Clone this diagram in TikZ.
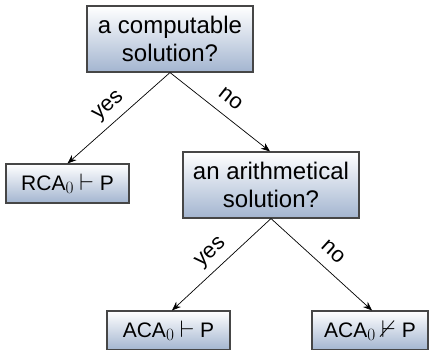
\documentclass[tikz,border=0pt]{standalone}
\usepackage{fontspec}
\usepackage{amssymb}
\usepackage{graphicx}
\setmainfont{Liberation Sans}
\usetikzlibrary{arrows.meta}
\definecolor{boxbot}{RGB}{163,181,208}
\definecolor{boxline}{RGB}{70,70,70}
\newcommand{\subz}{\raisebox{-2.5pt}{\fontsize{17}{17}\selectfont$0$}}
\newcommand{\tst}{\raisebox{0.5pt}{\scalebox{1.15}{$\vdash$}}}
\newcommand{\ntst}{\raisebox{0.5pt}{\scalebox{1.15}{$\nvdash$}}}
\tikzset{
  qbox/.style={draw=boxline, line width=1.1pt, top color=white, bottom color=boxbot,
    inner sep=0pt, align=center, font=\fontsize{24}{28}\selectfont},
  abox/.style={draw=boxline, line width=1.1pt, top color=white, bottom color=boxbot,
    inner sep=0pt, font=\fontsize{21}{25}\selectfont},
  edge/.style={line width=0.7pt, -{Stealth[length=9pt,width=7pt]}},
  lab/.style={sloped, above=14pt, inner sep=0pt, text height=0.52em, text depth=0pt,
    anchor=center, font=\fontsize{22}{26}\selectfont}
}
\begin{document}
\begin{tikzpicture}[x=1pt,y=-1pt]
\useasboundingbox (0,0) rectangle (434,349);
\node[qbox, minimum width=166pt, minimum height=66pt] (q1) at (170,39) {a computable\\solution?};
\node[abox, minimum width=123pt, minimum height=39pt] (rca) at (67.5,183.5) {RCA\subz{} \tst{} P};
\node[qbox, minimum width=176pt, minimum height=66pt] (q2) at (271,185) {an arithmetical\\solution?};
\node[abox, minimum width=123pt, minimum height=39pt] (aca) at (168.5,330.5) {ACA\subz{} \tst{} P};
\node[abox, minimum width=116pt, minimum height=39pt] (nac) at (370,330.5) {ACA\subz{} \ntst{} P};
\draw[edge] (q1.south) -- node[lab] {yes} (rca.north);
\draw[edge] (q1.south) -- node[lab] {no} ([xshift=-1pt]q2.north);
\draw[edge] (q2.south) -- node[lab] {yes} ([xshift=3.5pt]aca.north);
\draw[edge] (q2.south) -- node[lab] {no} ([xshift=2pt]nac.north);
\end{tikzpicture}
\end{document}
